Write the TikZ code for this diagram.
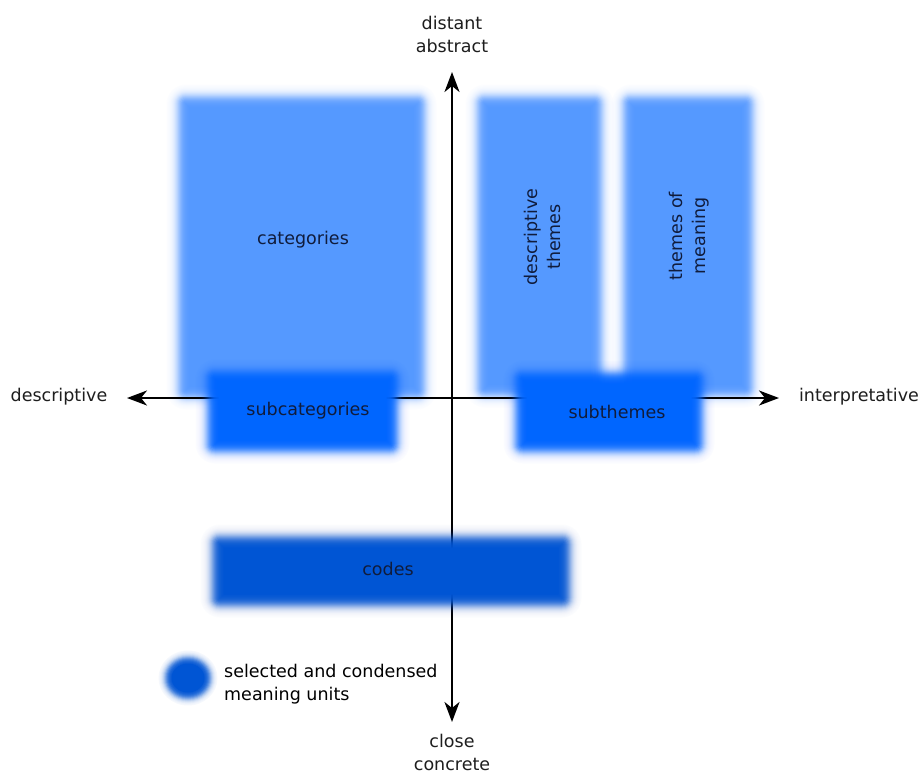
\documentclass[tikz,border=0pt]{standalone}
\usepackage{fontspec}
\setmainfont{DejaVu Sans}
\usetikzlibrary{arrows.meta}
\definecolor{lightbox}{RGB}{85,153,255}
\definecolor{midbox}{RGB}{0,102,255}
\definecolor{darkbox}{RGB}{0,85,212}
\definecolor{boxtext}{RGB}{16,28,60}
\definecolor{axistext}{RGB}{30,30,30}
\newcommand{\blurbox}[5]{%
  \foreach \m in {1,...,24}{%
    \pgfmathsetmacro{\dd}{12.5-\m}%
    \pgfmathsetmacro{\cc}{1/(1+exp(-(\m-12.5)*0.36))}%
    \pgfmathsetmacro{\cp}{(\m>1)*1/(1+exp(-(\m-13.5)*0.36))}%
    \pgfmathsetmacro{\aa}{(\m==24) ? 1 : (\cc-\cp)/(1-\cp)}%
    \pgfmathsetmacro{\rr}{max(\dd+8,0.5)}%
    \pgfmathsetmacro{\xa}{#1-\dd}\pgfmathsetmacro{\ya}{#2-\dd}%
    \pgfmathsetmacro{\xb}{#3+\dd}\pgfmathsetmacro{\yb}{#4+\dd}%
    \fill[#5, opacity=\aa, rounded corners=\rr pt] (\xa,\ya) rectangle (\xb,\yb);
  }}
\newcommand{\blurdot}[5]{%
  \foreach \m in {1,...,14}{%
    \pgfmathsetmacro{\dd}{7.5-\m}%
    \pgfmathsetmacro{\cc}{1/(1+exp(-(\m-7.5)*0.5))}%
    \pgfmathsetmacro{\cp}{(\m>1)*1/(1+exp(-(\m-8.5)*0.5))}%
    \pgfmathsetmacro{\aa}{(\m==14) ? 1 : (\cc-\cp)/(1-\cp)}%
    \pgfmathsetmacro{\ra}{#3+\dd}\pgfmathsetmacro{\rb}{#4+\dd}%
    \fill[#5, opacity=\aa] (#1,#2) ellipse[x radius=\ra pt, y radius=\rb pt];
  }}
\tikzset{
  lbl/.style={font=\fontsize{17.5}{23}\selectfont, inner sep=0pt, align=center},
  boxlbl/.style={lbl, text=boxtext},
  axlbl/.style={lbl, text=axistext},
  axis/.style={line width=2.4pt, black, {Stealth[length=20pt,width=15pt,inset=6pt]}-{Stealth[length=20pt,width=15pt,inset=6pt]}}
}
\begin{document}
\begin{tikzpicture}[x=1pt,y=-1pt]
\useasboundingbox (0,0) rectangle (924,774);
\fill[white] (0,0) rectangle (924,774);
% large boxes
\blurbox{178}{96}{425}{398}{lightbox}
\blurbox{477}{96}{602}{396}{lightbox}
\blurbox{623}{96}{753}{396}{lightbox}
% axes
\coordinate (top) at (452,72);
\coordinate (bot) at (452,722);
\coordinate (lft) at (127,398);
\coordinate (rgt) at (779,398);
\draw[axis] (bot) -- (top);
\draw[axis, line width=2.1pt] (lft) -- (rgt);
% sub boxes
\blurbox{207}{371}{398}{452}{midbox}
\blurbox{515}{372}{703}{452}{midbox}
\blurbox{212}{536}{570}{606}{darkbox}
\blurdot{188}{678}{23}{21}{darkbox}
% labels
\node[boxlbl] (cat) at (303,240) {categories};
\node[boxlbl, rotate=90] (dth) at (542,237) {descriptive\\themes};
\node[boxlbl, rotate=90] (tom) at (689,236) {themes of\\meaning};
\node[boxlbl] (subcat) at (308,411) {subcategories};
\node[boxlbl] (subth) at (617,412) {subthemes};
\node[boxlbl] (codes) at (388,569) {codes};
\node[axlbl] (dist) at (452,34) {distant\\abstract};
\node[axlbl] (close) at (452,752) {close\\concrete};
\node[axlbl] (desc) at (59,397) {descriptive};
\node[axlbl] (interp) at (859,397) {interpretative};
\node[axlbl, anchor=west, align=left, text=black] (legend) at (224,684) {selected and condensed\\meaning units};
\end{tikzpicture}
\end{document}
